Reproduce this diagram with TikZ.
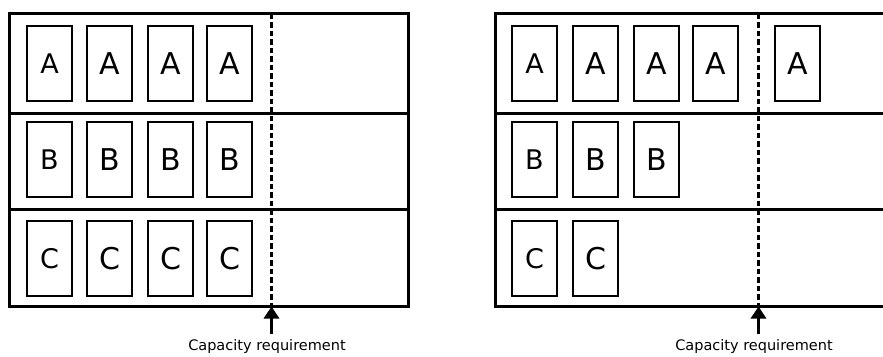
\documentclass[tikz,border=0pt]{standalone}
\usepackage{fontspec}
\setmainfont{DejaVu Sans}
\usetikzlibrary{arrows.meta}
\begin{document}
\begin{tikzpicture}[x=1pt,y=-1pt,
  frame/.style={line width=3pt},
  slot/.style={draw,line width=2.8pt,minimum width=45pt,minimum height=75pt,inner sep=0pt,font=\fontsize{30}{30}\selectfont},
  slotsmall/.style={slot,font=\fontsize{27}{27}\selectfont},
  limit/.style={line width=2.6pt,dash pattern=on 5.5pt off 3pt},
  req/.style={line width=3pt,-{Triangle[width=15pt,length=12pt]}},
  reqlabel/.style={font=\fontsize{14.5}{14.5}\selectfont}
]
\useasboundingbox (0,0) rectangle (883,356);
% ---------- left panel ----------
\draw[frame] (9.5,13.5) rectangle (408.5,306.5);
\draw[frame] (9.5,113.5) -- (408.5,113.5);
\draw[frame] (9.5,209.5) -- (408.5,209.5);
\coordinate (lt) at (271.5,13.5);
\coordinate (lb) at (271.5,306.5);
\coordinate (lq) at (271.5,334);
\draw[limit] (lt) -- (lb);
\draw[req] (lq) -- (lb);
\node[reqlabel] (ll) at (267,346) {Capacity requirement};
% row A
\node[slotsmall] (la1) at (49.5,63.5) {A};
\node[slot] (la2) at (109.5,63.5) {A};
\node[slot] (la3) at (170.5,63.5) {A};
\node[slot] (la4) at (229.5,63.5) {A};
% row B
\node[slotsmall] (lb1) at (49.5,159.5) {B};
\node[slot] (lb2) at (109.5,159.5) {B};
\node[slot] (lb3) at (170.5,159.5) {B};
\node[slot] (lb4) at (229.5,159.5) {B};
% row C
\node[slotsmall] (lc1) at (49.5,258.5) {C};
\node[slot] (lc2) at (109.5,258.5) {C};
\node[slot] (lc3) at (170.5,258.5) {C};
\node[slot] (lc4) at (229.5,258.5) {C};
% ---------- right panel ----------
\draw[frame] (884,13.5) -- (495.5,13.5) -- (495.5,306.5) -- (884,306.5);
\draw[frame] (495.5,113.5) -- (884,113.5);
\draw[frame] (495.5,209.5) -- (884,209.5);
\coordinate (rt) at (758.5,13.5);
\coordinate (rb) at (758.5,306.5);
\coordinate (rq) at (758.5,334);
\draw[limit] (rt) -- (rb);
\draw[req] (rq) -- (rb);
\node[reqlabel] (rl) at (754,346) {Capacity requirement};
% row A
\node[slotsmall] (ra1) at (534.5,63.5) {A};
\node[slot] (ra2) at (595.5,63.5) {A};
\node[slot] (ra3) at (656.5,63.5) {A};
\node[slot] (ra4) at (715.5,63.5) {A};
\node[slot] (ra5) at (797.5,63.5) {A};
% row B
\node[slotsmall] (rb1) at (534.5,159.5) {B};
\node[slot] (rb2) at (595.5,159.5) {B};
\node[slot] (rb3) at (656.5,159.5) {B};
% row C
\node[slotsmall] (rc1) at (534.5,258.5) {C};
\node[slot] (rc2) at (595.5,258.5) {C};
\end{tikzpicture}
\end{document}
